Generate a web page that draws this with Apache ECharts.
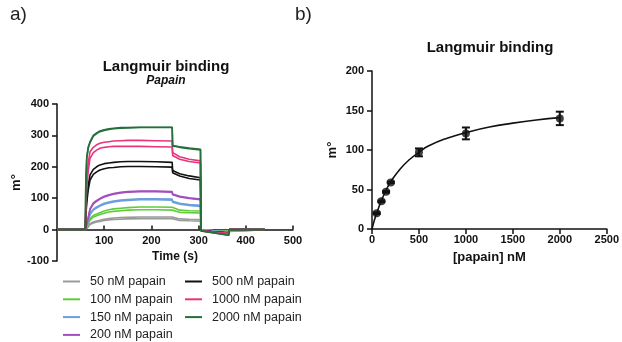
<!DOCTYPE html>
<html>
<head>
<meta charset="utf-8">
<script src="https://cdn.jsdelivr.net/npm/echarts@6/dist/echarts.min.js"></script>
<style>
html, body { margin: 0; padding: 0; background: #fff; }
#chart { width: 622px; height: 342px; }
</style>
</head>
<body>
<div id="chart"></div>
<script>
// a) sensorgram: time points shared by every trace (s)
var times = [0, 60, 61, 63, 66, 70, 77, 84, 91, 100, 110, 120, 135, 150, 176, 210, 244, 245, 260, 280, 304, 305, 330, 364, 365, 440];

// two replicate traces per concentration (m°)
var gray50a    = [0, 0, 2, 5, 10, 19, 24, 27, 30, 33, 35, 37, 38, 39, 40, 40, 40, 36, 34, 33, 32, -1, -3, -4, 0, 0];
var gray50b    = [0, 0, 2, 4, 8, 16, 21, 24, 26, 29, 31, 32, 33, 34, 35, 35, 35, 31, 29, 28, 27, -1, -3, -4, 0, 0];
var green100a  = [0, 0, 4, 10, 22, 35, 45, 50, 54, 59, 63, 66, 68, 70, 72, 72, 71, 66, 62, 60, 59, -1, -4, -6, 0, 0];
var green100b  = [0, 0, 3, 8, 18, 30, 40, 44, 48, 52, 56, 58, 60, 62, 63, 63, 62, 57, 55, 54, 53, -1, -4, -6, 0, 0];
var blue150a   = [0, 0, 6, 15, 30, 51, 65, 72, 78, 84, 88, 91, 94, 96, 98, 98, 97, 90, 84, 80, 77, -2, -5, -8, 0, 0];
var blue150b   = [0, 0, 5, 13, 27, 48, 62, 69, 75, 81, 85, 88, 91, 93, 95, 95, 94, 87, 81, 77, 74, -2, -5, -8, 0, 0];
var purple200a = [0, 0, 8, 20, 38, 67, 85, 93, 99, 106, 111, 115, 119, 121, 123, 123, 121, 113, 106, 101, 97, -2, -6, -9, 0, 0];
var purple200b = [0, 0, 7, 18, 36, 64, 82, 90, 97, 104, 109, 113, 117, 119, 121, 121, 119, 111, 104, 99, 95, -2, -6, -9, 0, 0];
var black500a  = [0, 0, 50, 100, 140, 174, 192, 200, 206, 210, 212, 214, 216, 217, 217, 216, 214, 188, 178, 171, 165, -3, -7, -11, 0, 0];
var black500b  = [0, 0, 40, 85, 125, 158, 176, 184, 190, 194, 197, 198, 200, 201, 201, 200, 199, 181, 171, 163, 158, -3, -7, -11, 0, 0];
var pink1000a  = [0, 0, 80, 150, 210, 248, 262, 270, 275, 278, 280, 282, 283, 284, 284, 283, 282, 245, 232, 224, 219, -3, -8, -12, 0, 0];
var pink1000b  = [0, 0, 70, 130, 185, 227, 245, 253, 259, 262, 264, 265, 265, 265, 265, 264, 263, 236, 224, 217, 212, -3, -8, -12, 0, 0];
var dkgreen2000a = [0, 0, 150, 230, 262, 280, 300, 308, 314, 318, 321, 323, 325, 325, 326, 326, 326, 268, 264, 260, 256, -4, -10, -18, 0, 0];
var dkgreen2000b = [0, 0, 145, 225, 258, 277, 298, 306, 312, 316, 319, 321, 323, 324, 325, 325, 325, 266, 262, 258, 254, -4, -10, -18, 0, 0];

var concNames = ['50 nM papain', '100 nM papain', '150 nM papain', '200 nM papain',
                 '500 nM papain', '1000 nM papain', '2000 nM papain'];

// b) Langmuir fit: concentrations (nM), mean response, error bars
var pointConc = [50, 100, 150, 200, 500, 1000, 2000];
var pointResp = [20, 35, 47, 59, 97, 121, 140];
var pointErr  = [1, 1, 1, 1, 5, 7.5, 8.5];

var fitConc = [0, 25, 50, 100, 150, 200, 300, 400, 500, 600, 800, 1000, 1250, 1500, 1750, 2000];
var fitResp = [0, 11, 20, 36, 49, 60, 76, 88, 97, 105, 115, 122, 129, 134, 138, 141];

var FONT = '"Liberation Sans", Arial, sans-serif';

var myChart = echarts.init(document.getElementById('chart'));

function trace(vals) {
    var out = [];
    for (var i = 0; i < times.length; i++) {
        out.push([times[i], vals[i]]);
    }
    return out;
}

function sgSeries(name, color, vals) {
    return {
        name: name,
        type: 'line',
        xAxisIndex: 0,
        yAxisIndex: 0,
        showSymbol: false,
        symbol: 'none',
        lineStyle: { color: color, width: 1.6 },
        itemStyle: { color: color },
        data: trace(vals)
    };
}

var errData = [];
for (var i = 0; i < pointConc.length; i++) {
    errData.push([pointConc[i], pointResp[i] - pointErr[i], pointResp[i] + pointErr[i]]);
}
var ptData = [];
for (var i = 0; i < pointConc.length; i++) {
    ptData.push([pointConc[i], pointResp[i]]);
}
var fitData = [];
for (var i = 0; i < fitConc.length; i++) {
    fitData.push([fitConc[i], fitResp[i]]);
}

function renderErr(params, api) {
    var x = api.value(0);
    var lo = api.coord([x, api.value(1)]);
    var hi = api.coord([x, api.value(2)]);
    var w = 4;
    var st = { stroke: '#111', lineWidth: 2 };
    return {
        type: 'group',
        children: [
            { type: 'line', shape: { x1: lo[0], y1: lo[1], x2: hi[0], y2: hi[1] }, style: st },
            { type: 'line', shape: { x1: lo[0] - w, y1: lo[1], x2: lo[0] + w, y2: lo[1] }, style: st },
            { type: 'line', shape: { x1: hi[0] - w, y1: hi[1], x2: hi[0] + w, y2: hi[1] }, style: st }
        ]
    };
}

function plain(v) { return String(v); }

var axisLabelStyle = { fontFamily: FONT, fontWeight: 'bold', fontSize: 11, color: '#111', formatter: plain };
var axisLineStyle = { show: true, onZero: false, lineStyle: { color: '#111', width: 1.5 } };
var axisTickStyle = { show: true, length: 5, lineStyle: { color: '#111', width: 1.5 } };

var legendText = { fontFamily: FONT, fontSize: 12.5, color: '#222', lineHeight: 14, padding: [0, 0, 0, 5] };

var option = {
    animation: false,
    backgroundColor: '#fff',
    graphic: [
        { type: 'text', left: 10, top: 5, style: { text: 'a)', font: '19px ' + FONT, fill: '#222' } },
        { type: 'text', left: 295, top: 5, style: { text: 'b)', font: '19px ' + FONT, fill: '#222' } },
        { type: 'text', x: 166, y: 67, style: { text: 'Langmuir binding', font: 'bold 15px ' + FONT, fill: '#111', textAlign: 'center', textVerticalAlign: 'middle' } },
        { type: 'text', x: 166, y: 81, style: { text: 'Papain', font: 'italic bold 12px ' + FONT, fill: '#111', textAlign: 'center', textVerticalAlign: 'middle' } },
        { type: 'text', x: 490, y: 48, style: { text: 'Langmuir binding', font: 'bold 15px ' + FONT, fill: '#111', textAlign: 'center', textVerticalAlign: 'middle' } }
    ],
    legend: [
        {
            data: concNames.slice(0, 4),
            orient: 'vertical',
            left: 63,
            top: 274.5,
            padding: 0,
            icon: 'rect',
            itemWidth: 17,
            itemHeight: 2,
            itemGap: 3.8,
            textStyle: legendText
        },
        {
            data: concNames.slice(4),
            orient: 'vertical',
            left: 185,
            top: 274.5,
            padding: 0,
            icon: 'rect',
            itemWidth: 17,
            itemHeight: 2,
            itemGap: 3.8,
            textStyle: legendText
        }
    ],
    grid: [
        { left: 57, top: 104, width: 236, height: 157 },
        { left: 372, top: 71, width: 235, height: 158 }
    ],
    xAxis: [
        {
            gridIndex: 0,
            type: 'value',
            min: 0,
            max: 500,
            interval: 100,
            offset: -31.4,
            name: 'Time (s)',
            nameLocation: 'middle',
            nameGap: 21,
            nameTextStyle: { fontFamily: FONT, fontWeight: 'bold', fontSize: 12, color: '#111' },
            axisLine: axisLineStyle,
            axisTick: { show: true, inside: true, length: 4, lineStyle: { color: '#111', width: 1.5 } },
            axisLabel: Object.assign({ margin: 6, showMinLabel: false }, axisLabelStyle),
            splitLine: { show: false }
        },
        {
            gridIndex: 1,
            type: 'value',
            min: 0,
            max: 2500,
            interval: 500,
            name: '[papain] nM',
            nameLocation: 'middle',
            nameGap: 22,
            nameTextStyle: { fontFamily: FONT, fontWeight: 'bold', fontSize: 13, color: '#111' },
            axisLine: axisLineStyle,
            axisTick: axisTickStyle,
            axisLabel: Object.assign({ margin: 5 }, axisLabelStyle),
            splitLine: { show: false }
        }
    ],
    yAxis: [
        {
            gridIndex: 0,
            type: 'value',
            min: -100,
            max: 400,
            interval: 100,
            name: 'm°',
            nameLocation: 'middle',
            nameGap: 31,
            nameTextStyle: { fontFamily: FONT, fontWeight: 'bold', fontSize: 13, color: '#111' },
            axisLine: axisLineStyle,
            axisTick: axisTickStyle,
            axisLabel: Object.assign({ margin: 8 }, axisLabelStyle),
            splitLine: { show: false }
        },
        {
            gridIndex: 1,
            type: 'value',
            min: 0,
            max: 200,
            interval: 50,
            name: 'm°',
            nameLocation: 'middle',
            nameGap: 33,
            nameTextStyle: { fontFamily: FONT, fontWeight: 'bold', fontSize: 13, color: '#111' },
            axisLine: axisLineStyle,
            axisTick: axisTickStyle,
            axisLabel: Object.assign({ margin: 8 }, axisLabelStyle),
            splitLine: { show: false }
        }
    ],
    series: [
        sgSeries(concNames[0], '#9a9a9a', gray50a),
        sgSeries(concNames[0], '#9a9a9a', gray50b),
        sgSeries(concNames[1], '#5fcc3a', green100a),
        sgSeries(concNames[1], '#5fcc3a', green100b),
        sgSeries(concNames[2], '#6a9fdc', blue150a),
        sgSeries(concNames[2], '#6a9fdc', blue150b),
        sgSeries(concNames[3], '#a24fbf', purple200a),
        sgSeries(concNames[3], '#a24fbf', purple200b),
        sgSeries(concNames[4], '#111111', black500a),
        sgSeries(concNames[4], '#111111', black500b),
        sgSeries(concNames[5], '#e8347c', pink1000a),
        sgSeries(concNames[5], '#e8347c', pink1000b),
        sgSeries(concNames[6], '#23703a', dkgreen2000a),
        sgSeries(concNames[6], '#23703a', dkgreen2000b),
        {
            name: 'fit',
            type: 'line',
            xAxisIndex: 1,
            yAxisIndex: 1,
            smooth: true,
            showSymbol: false,
            symbol: 'none',
            lineStyle: { color: '#111', width: 1.6 },
            data: fitData
        },
        {
            name: 'err',
            type: 'custom',
            xAxisIndex: 1,
            yAxisIndex: 1,
            renderItem: renderErr,
            data: errData,
            z: 3
        },
        {
            name: 'points',
            type: 'scatter',
            xAxisIndex: 1,
            yAxisIndex: 1,
            symbol: 'circle',
            symbolSize: 8,
            itemStyle: { color: '#111' },
            data: ptData,
            z: 4
        }
    ]
};

myChart.setOption(option);
</script>
</body>
</html>
